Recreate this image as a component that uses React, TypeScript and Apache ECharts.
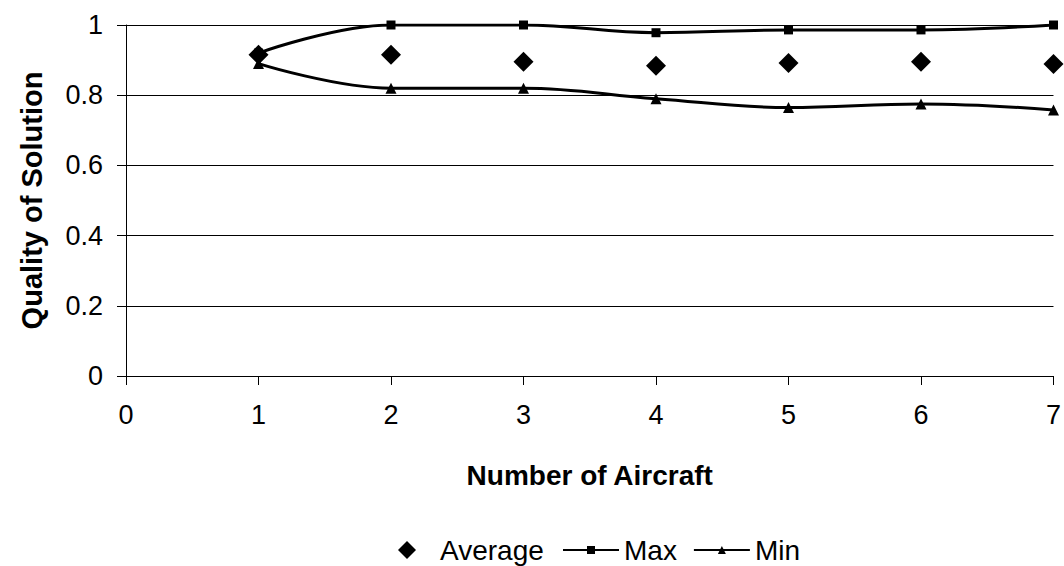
import React, { useEffect, useRef } from "react";
import * as echarts from "echarts";

const aircraft = [1, 2, 3, 4, 5, 6, 7];
const averageVals = [0.915, 0.915, 0.895, 0.884, 0.892, 0.895, 0.889];
const maxVals = [0.92, 1.0, 1.0, 0.978, 0.986, 0.986, 1.0];
const minVals = [0.89, 0.82, 0.82, 0.79, 0.765, 0.775, 0.758];

const FONT = "Liberation Sans, Arial, sans-serif";
const DIAMOND_ICON = "path://M0,9L0,9M56,9L56,9M28,0L37,9L28,18L19,9Z";

export default function App() {
  const ref = useRef<HTMLDivElement>(null);
  useEffect(() => {
    if (!ref.current) return;
    const chart = echarts.init(ref.current, undefined, { renderer: "svg" });
    const pair = (vals: number[]) => aircraft.map((x, i) => [x, vals[i]]);
    const legendText = { fontFamily: FONT, fontSize: 28, color: "#000", padding: [0, 0, 0, 0] };
    chart.setOption({
      animation: false,
      backgroundColor: "#ffffff",
      textStyle: { fontFamily: FONT, color: "#000" },
      grid: { left: 126, right: 10, top: 25, bottom: 190, containLabel: false },
      xAxis: {
        type: "value",
        min: 0,
        max: 7,
        interval: 1,
        name: "Number of Aircraft",
        nameLocation: "middle",
        nameGap: 85,
        nameTextStyle: { fontFamily: FONT, fontSize: 28, fontWeight: "bold", color: "#000" },
        axisLine: { show: true, lineStyle: { color: "#000", width: 1 } },
        axisTick: { show: true, length: 9, inside: false, lineStyle: { color: "#000" } },
        axisLabel: { fontFamily: FONT, fontSize: 27, color: "#000", margin: 25 },
        splitLine: { show: false },
      },
      yAxis: {
        type: "value",
        min: 0,
        max: 1,
        interval: 0.2,
        name: "Quality of Solution",
        nameLocation: "middle",
        nameGap: 80,
        nameTextStyle: { fontFamily: FONT, fontSize: 29, fontWeight: "bold", color: "#000" },
        axisLine: { show: true, lineStyle: { color: "#000", width: 1 } },
        axisTick: { show: true, length: 9, inside: false, lineStyle: { color: "#000" } },
        axisLabel: { fontFamily: FONT, fontSize: 27, color: "#000", margin: 23 },
        splitLine: { show: true, lineStyle: { color: "#000", width: 1 } },
      },
      legend: [
        {
          left: 379,
          top: 536,
          padding: 0,
          itemWidth: 56,
          itemHeight: 18,
          itemGap: 16,
          textStyle: legendText,
          data: [{ name: "Average", icon: DIAMOND_ICON, itemStyle: { color: "#000", opacity: 1 } }],
        },
        {
          left: 562,
          top: 536,
          padding: 0,
          itemWidth: 56,
          itemHeight: 10,
          itemGap: 16,
          textStyle: legendText,
          data: [{ name: "Max" }, { name: "Min" }],
        },
      ],
      series: [
        {
          name: "Average",
          type: "scatter",
          data: pair(averageVals),
          symbol: "diamond",
          symbolSize: 20,
          itemStyle: { color: "#000", opacity: 1 },
          z: 3,
        },
        {
          name: "Max",
          type: "line",
          data: pair(maxVals),
          smooth: 0.4,
          symbol: "rect",
          symbolSize: 9,
          showAllSymbol: true,
          lineStyle: { color: "#000", width: 3 },
          itemStyle: { color: "#000" },
        },
        {
          name: "Min",
          type: "line",
          data: pair(minVals),
          smooth: 0.4,
          symbol: "triangle",
          symbolSize: 11,
          showAllSymbol: true,
          lineStyle: { color: "#000", width: 3 },
          itemStyle: { color: "#000" },
        },
      ],
    });
    return () => chart.dispose();
  }, []);
  return <div ref={ref} style={{ width: 1064, height: 566, position: "absolute", left: 0, top: 0 }} />;
}
